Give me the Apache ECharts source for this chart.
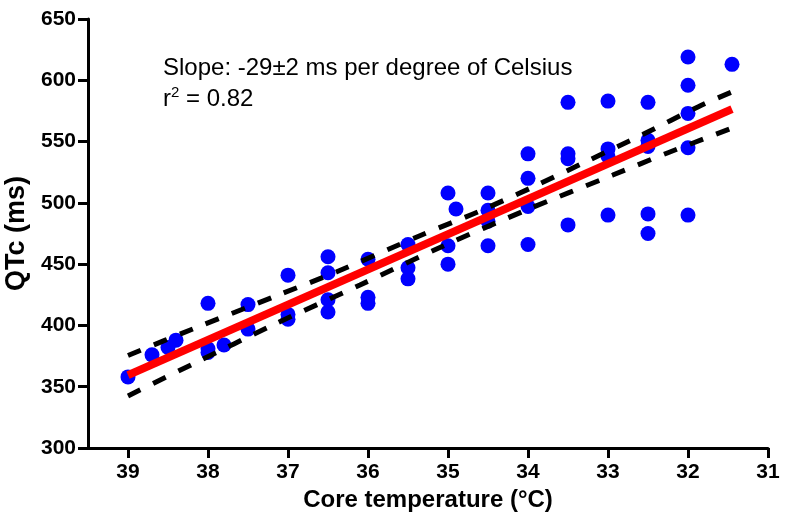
<!DOCTYPE html>
<html>
<head>
<meta charset="utf-8">
<script src="https://cdn.jsdelivr.net/npm/echarts@6/dist/echarts.min.js"></script>
<style>
html,body{margin:0;padding:0;background:#fff;}
#chart{width:786px;height:518px;}
</style>
</head>
<body>
<div id="chart"></div>
<script>
// Scatter observations: core temperature (°C) and QTc (ms)
var pointTemps = [39, 38.7, 38.5, 38.4, 38, 38, 38, 37.8, 37.5, 37.5,
  37, 37, 37, 36.5, 36.5, 36.5, 36.5, 36, 36, 36,
  35.5, 35.5, 35.5, 35, 35, 35, 34.9,
  34.5, 34.5, 34.5, 34.5, 34, 34, 34, 34,
  33.5, 33.5, 33.5, 33.5, 33, 33, 33, 33,
  32.5, 32.5, 32.5, 32.5, 32.5, 32, 32, 32, 32, 32, 31.45];
var pointQTc = [358, 376, 382, 388, 418, 381, 378, 384, 417, 397,
  441, 409, 405, 456, 443, 421, 411, 454, 423, 418,
  466, 447, 438, 508, 465, 450, 495,
  508, 494, 485, 465, 540, 520, 497, 466,
  582, 540, 536, 482, 583, 544, 538, 490,
  582, 551, 546, 491, 475, 619, 596, 573, 545, 490, 613];

// Regression line end points
var fitTemps = [39, 31.45];
var fitQTc = [359.5, 576.5];

// 95% confidence band
var upperTemps = [39, 38.19, 37.12, 36.39, 35.33, 34.62, 33.93, 33.25, 32.56, 31.87, 31.45];
var upperQTc = [375.5, 397.1, 424.8, 443.8, 473.8, 492.8, 513.2, 534.4, 555.9, 578.5, 590.5];
var lowerTemps = [39, 38.19, 37.16, 36.1, 35.08, 34.02, 32.94, 32.25, 31.45];
var lowerQTc = [342.5, 368.5, 401.2, 433.0, 464.2, 494.2, 522.7, 540.9, 561];

// Tick labels
var xTicks = [39, 38, 37, 36, 35, 34, 33, 32, 31];
var yTicks = [300, 350, 400, 450, 500, 550, 600, 650];

function zip(a, b) { return a.map(function (v, i) { return [v, b[i]]; }); }

var FONT = '"Liberation Sans", Arial, sans-serif';
var chart = echarts.init(document.getElementById('chart'));
chart.setOption({
  animation: false,
  backgroundColor: '#fff',
  grid: { left: 88, right: 18, top: 19, bottom: 70, containLabel: false, outerBoundsMode: 'none' },
  xAxis: {
    type: 'value', min: 31, max: 39.5, inverse: true, interval: 1,
    name: 'Core temperature (°C)', nameLocation: 'middle', nameGap: 34,
    nameTextStyle: { fontFamily: FONT, fontWeight: 'bold', fontSize: 24, color: '#000' },
    axisLine: { onZero: false, lineStyle: { color: '#000', width: 3 } },
    axisTick: { length: 10, customValues: xTicks, lineStyle: { color: '#000', width: 3 } },
    axisLabel: { customValues: xTicks, fontFamily: FONT, fontWeight: 'bold', fontSize: 21, color: '#000', margin: 14 },
    splitLine: { show: false }
  },
  yAxis: {
    type: 'value', min: 300, max: 650, interval: 50,
    name: 'QTc (ms)', nameLocation: 'middle', nameGap: 55, nameRotate: 90,
    nameTextStyle: { fontFamily: FONT, fontWeight: 'bold', fontSize: 27, color: '#000' },
    axisLine: { show: true, onZero: false, lineStyle: { color: '#000', width: 3 } },
    axisTick: { show: true, length: 10, customValues: yTicks, lineStyle: { color: '#000', width: 3 } },
    axisLabel: { customValues: yTicks, fontFamily: FONT, fontWeight: 'bold', fontSize: 21, color: '#000', margin: 12 },
    splitLine: { show: false }
  },
  graphic: [
    { type: 'text', left: 163, top: 56, z: 100,
      style: { text: 'Slope: -29±2 ms per degree of Celsius', font: '24px ' + FONT, fill: '#000' } },
    { type: 'text', left: 163, top: 85, z: 100,
      style: {
        text: '{a|r}{s|2}{a| = 0.82}', fill: '#000',
        rich: {
          a: { fontFamily: FONT, fontSize: 24, lineHeight: 28, fill: '#000' },
          s: { fontFamily: FONT, fontSize: 15, lineHeight: 15, verticalAlign: 'top', fill: '#000' }
        }
      } }
  ],
  series: [
    { type: 'scatter', data: zip(pointTemps, pointQTc), symbol: 'circle', symbolSize: 15,
      itemStyle: { color: '#0000ff', opacity: 1 }, z: 2 },
    { type: 'line', data: zip(upperTemps, upperQTc), smooth: 0.3, symbol: 'none',
      lineStyle: { color: '#000', width: 5, type: [14, 14], cap: 'butt' }, z: 3 },
    { type: 'line', data: zip(lowerTemps, lowerQTc), smooth: 0.3, symbol: 'none',
      lineStyle: { color: '#000', width: 5, type: [14, 14], cap: 'butt' }, z: 3 },
    { type: 'line', data: zip(fitTemps, fitQTc), symbol: 'none',
      lineStyle: { color: '#ff0000', width: 8, cap: 'butt' }, z: 4 }
  ]
});
</script>
</body>
</html>
